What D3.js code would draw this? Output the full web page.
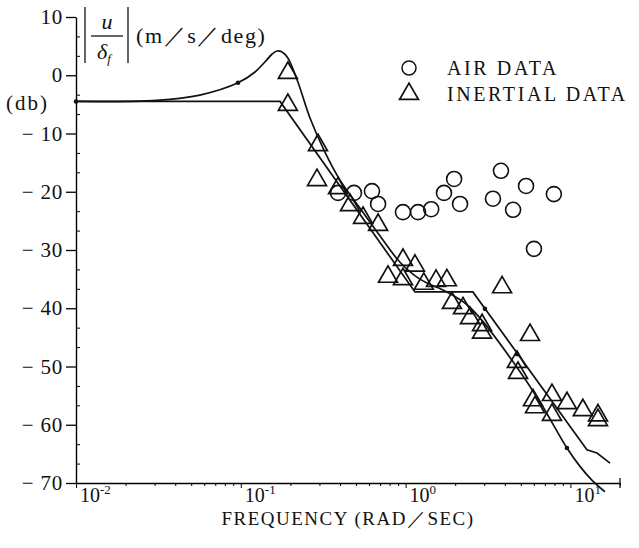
<!DOCTYPE html>
<html>
<head>
<meta charset="utf-8">
<script src="https://cdn.jsdelivr.net/npm/d3@7"></script>
<style>
  body { margin: 0; background: #fff; }
  svg { display: block; }
  text { font-family: "Liberation Serif", "DejaVu Serif", serif; fill: #111; }
</style>
</head>
<body>
<div id="chart"></div>
<script>
// frequency (rad/sec), gain (db)
const airData = [
  [0.389, -20.2], [0.486, -20.2], [0.625, -19.9], [0.681, -22.1],
  [0.964, -23.5], [1.19, -23.5], [1.43, -23.0], [1.71, -20.2],
  [1.97, -17.8], [2.14, -22.1], [3.39, -21.2], [3.79, -16.4],
  [4.49, -23.1], [5.38, -19.0], [7.94, -20.4], [6.01, -29.8],
];

const inertialData = [
  [0.193, 0.4], [0.193, -5.1], [0.294, -12.0], [0.29, -18.0],
  [0.389, -19.4], [0.46, -22.3], [0.552, -24.5], [0.681, -25.7],
  [0.782, -34.6], [0.964, -31.7], [1.14, -32.7], [0.964, -35.0],
  [1.29, -35.8], [1.53, -35.3], [1.78, -35.2], [1.91, -39.1],
  [2.23, -40.0], [2.46, -41.7], [2.91, -42.9], [2.91, -44.2],
  [3.85, -36.4], [5.69, -44.6], [4.74, -49.2], [4.81, -51.1],
  [5.93, -55.8], [6.1, -57.0], [7.73, -54.9], [7.73, -58.3],
  [9.53, -56.3], [11.9, -57.5], [14.7, -58.4], [14.7, -59.2],
];

// straight-line (asymptote) model
const asymptote = [
  [0.01, -4.5], [0.173, -4.5], [1.14, -37.2], [2.56, -37.2],
  [12.6, -64.3], [14.5, -64.85], [17.4, -66.6],
];
const asymptoteDots = [[3.03, -40.1], [4.74, -47.9]];

// computed response
const response = [
  [0.01, -4.5], [0.031, -4.3], [0.0565, -3.4], [0.0962, -1.3],
  [0.122, 0.56], [0.14, 2.27], [0.155, 3.65], [0.166, 4.16],
  [0.178, 4.0], [0.193, 2.96], [0.222, -1.16], [0.263, -7.34],
  [0.324, -13.2], [0.4, -18.0], [0.528, -22.8], [0.7, -27.6],
  [0.925, -32.1], [1.22, -35.0], [1.78, -37.2], [2.29, -39.1],
  [2.83, -41.7], [4.49, -49.2], [6.54, -56.1], [9.53, -64.0],
  [11.4, -67.1], [13.5, -69.5], [16.2, -71.5],
];
const responseDots = [[0.01, -4.5], [0.0962, -1.3], [9.53, -64.0]];

const yTicks = d3.range(-70, 11, 10);
const xDecades = [0.01, 0.1, 1, 10];
const xExponents = ["-2", "-1", "0", "1"];
const legendItems = ["AIR DATA", "INERTIAL DATA"];

const W = 639, H = 548;
const svg = d3.select("#chart").append("svg")
  .attr("width", W).attr("height", H);

const x = d3.scaleLog().domain([0.01, 20]).range([76, 620]);
const y = d3.scaleLinear().domain([-70, 10]).range([483, 17]);

// y axis, major ticks outward
svg.append("g")
  .attr("transform", `translate(${x(0.01)},0)`)
  .call(d3.axisLeft(y).tickValues(yTicks).tickSize(10).tickSizeOuter(0)
    .tickFormat((d) => (d < 0 ? "\u2212 " + -d : d)))
  .call((g) => g.select(".domain").attr("stroke-width", 1.4))
  .call((g) => g.selectAll(".tick line").attr("stroke-width", 1.3))
  .call((g) => g.selectAll(".tick text")
    .attr("x", -13).attr("font-size", 21).attr("letter-spacing", 0.8)
    .attr("font-family", "Liberation Serif").attr("fill", "#111"));

// minor y ticks, two per interval
const yMinor = [];
yTicks.slice(0, -1).forEach((t) => yMinor.push(t + 10 / 3, t + 20 / 3));
svg.append("g")
  .attr("transform", `translate(${x(0.01)},0)`)
  .call(d3.axisRight(y).tickValues(yMinor).tickSize(4).tickFormat(""))
  .call((g) => g.select(".domain").remove());

// x axis with log minor ticks
const xMinor = [];
xDecades.forEach((dec) => {
  for (let k = 2; k <= 9; k++) if (dec * k <= 20) xMinor.push(dec * k);
});
svg.append("g")
  .attr("transform", `translate(0,${y(-70)})`)
  .call(d3.axisBottom(x).tickValues(xMinor).tickSize(3).tickSizeOuter(0).tickFormat(""))
  .call((g) => g.select(".domain").attr("stroke-width", 1.4));
svg.append("g")
  .attr("transform", `translate(0,${y(-70)})`)
  .call(d3.axisBottom(x).tickValues(xDecades).tickSize(5).tickFormat(""))
  .call((g) => g.select(".domain").remove());
svg.append("line")
  .attr("x1", x(20)).attr("x2", x(20))
  .attr("y1", y(-70) - 5).attr("y2", y(-70) + 5)
  .attr("stroke", "#111").attr("stroke-width", 1.3);

const xl = svg.append("g").selectAll("text").data(xDecades).join("text")
  .attr("x", (d) => x(d) + 4)
  .attr("y", 502)
  .attr("font-size", 20);
xl.append("tspan").text("10");
xl.append("tspan").attr("dy", -8).attr("font-size", 13)
  .text((d, i) => xExponents[i]);

svg.append("text")
  .attr("x", (x(0.01) + x(20)) / 2).attr("y", 525)
  .attr("text-anchor", "middle").attr("font-size", 19)
  .attr("letter-spacing", 1.5)
  .text("FREQUENCY (RAD\uFF0FSEC)");

svg.append("text").attr("x", 6).attr("y", 110)
  .attr("font-size", 21).attr("letter-spacing", 2).text("(db)");

// |u / delta_f| (m/s/deg)
const t = svg.append("g");
[85, 128].forEach((bx) =>
  t.append("line").attr("x1", bx).attr("x2", bx).attr("y1", 7).attr("y2", 63)
    .attr("stroke", "#111").attr("stroke-width", 1.3));
t.append("line").attr("x1", 91).attr("x2", 123).attr("y1", 36).attr("y2", 36)
  .attr("stroke", "#111").attr("stroke-width", 1.3);
t.append("text").attr("x", 107).attr("y", 29).attr("text-anchor", "middle")
  .attr("font-size", 22).attr("font-style", "italic").text("u");
const dl = t.append("text").attr("x", 97).attr("y", 59)
  .attr("font-size", 22).attr("font-style", "italic");
dl.append("tspan").text("\u03b4");
dl.append("tspan").attr("dy", 4).attr("font-size", 13).text("f");
t.append("text").attr("x", 136).attr("y", 43)
  .attr("font-size", 22).attr("letter-spacing", 1.6).text("(m\uFF0Fs\uFF0Fdeg)");

// lines
const line = d3.line().x((d) => x(d[0])).y((d) => y(d[1]));
svg.append("path").datum(asymptote)
  .attr("fill", "none").attr("stroke", "#111").attr("stroke-width", 1.7)
  .attr("d", line);
svg.append("path").datum(response)
  .attr("fill", "none").attr("stroke", "#111").attr("stroke-width", 1.7)
  .attr("d", line.curve(d3.curveCatmullRom));

svg.append("g").selectAll("circle").data(responseDots.concat(asymptoteDots))
  .join("circle")
  .attr("cx", (d) => x(d[0])).attr("cy", (d) => y(d[1]))
  .attr("r", 2.3).attr("fill", "#111");

// markers
svg.append("g").selectAll("circle").data(airData).join("circle")
  .attr("cx", (d) => x(d[0])).attr("cy", (d) => y(d[1]))
  .attr("r", 7.5).attr("fill", "none").attr("stroke", "#111").attr("stroke-width", 1.6);

const tri = d3.symbol(d3.symbolTriangle).size(155);
svg.append("g").selectAll("path").data(inertialData).join("path")
  .attr("transform", (d) => `translate(${x(d[0])},${y(d[1])})`)
  .attr("d", tri).attr("fill", "none").attr("stroke", "#111").attr("stroke-width", 1.7);

// legend
const lg = svg.append("g").attr("transform", "translate(409,68)");
const items = lg.selectAll("g").data(legendItems).join("g")
  .attr("transform", (d, i) => `translate(0,${i * 26})`);
items.filter((d, i) => i == 0).append("circle").attr("r", 7)
  .attr("fill", "none").attr("stroke", "#111").attr("stroke-width", 1.5);
items.filter((d, i) => i == 1).append("path").attr("d", tri)
  .attr("fill", "none").attr("stroke", "#111").attr("stroke-width", 1.7);
items.append("text").attr("x", 38).attr("y", 7)
  .attr("font-size", 20).attr("letter-spacing", 2.6).text((d) => d);
</script>
</body>
</html>
